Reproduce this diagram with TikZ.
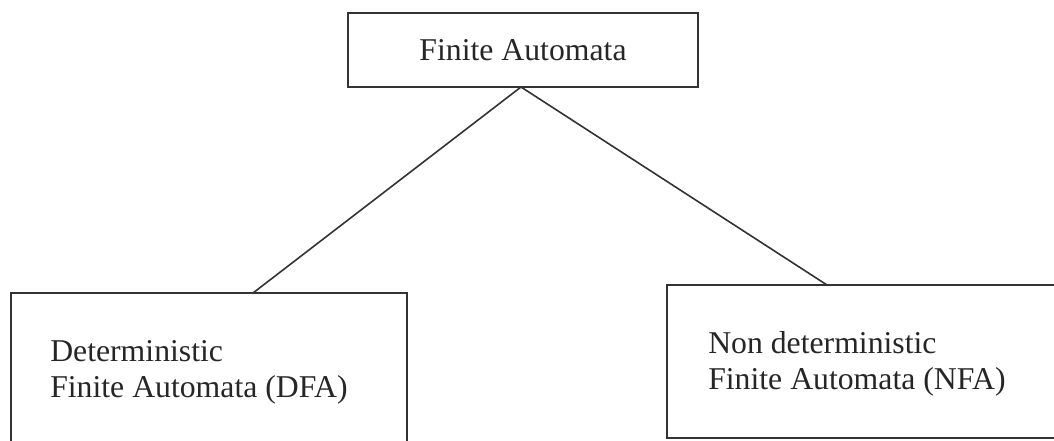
\documentclass[tikz,border=0pt]{standalone}
\usepackage{fontspec}
\setmainfont{Liberation Serif}
\begin{document}
\begin{tikzpicture}[x=0.75pt,y=-0.75pt,
  box/.style={draw=black!80, line width=1.25pt, rectangle, inner sep=0pt},
  label/.style={text=black!85, font=\fontsize{23.8pt}{27.5pt}\selectfont, inner sep=0pt},
  link/.style={draw=black!80, line width=1.2pt}]
  \useasboundingbox (0,0) rectangle (1054,441);
  \clip (0,0) rectangle (1054,441);
  % root box
  \node[box, label, minimum width=262.5pt, minimum height=55.9pt] (fa) at (523,50) {Finite Automata};
  % the two kinds of automata
  \node[box, minimum width=297pt, minimum height=125.25pt] (dfa) at (209,376.5) {};
  \node[box, minimum width=302.25pt, minimum height=114.75pt] (nfa) at (868.5,361.5) {};
  \node[label, align=left, anchor=north west] (dfatext) at (50,340) {Deterministic\\Finite Automata (DFA)};
  \node[label, align=left, anchor=north west] (nfatext) at (708,331) {Non deterministic\\Finite Automata (NFA)};
  % connectors
  \coordinate (apex) at (521,87);
  \coordinate (dfatop) at (253,293);
  \coordinate (nfatop) at (827,285);
  \draw[link] (apex) -- (dfatop);
  \draw[link] (apex) -- (nfatop);
\end{tikzpicture}
\end{document}
